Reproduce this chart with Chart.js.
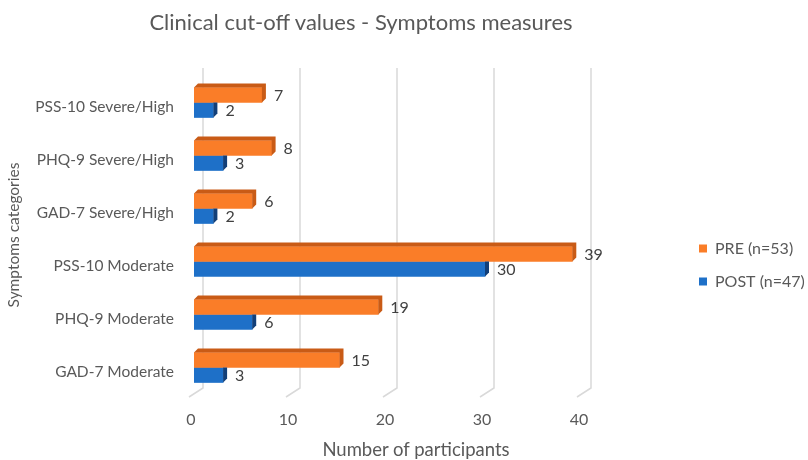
<!DOCTYPE html>
<html><head><meta charset="utf-8">
<script src="https://cdn.jsdelivr.net/npm/chart.js@4"></script>
<style>
html,body{margin:0;padding:0;background:#fff;}
#wrap{position:relative;width:808px;height:460px;overflow:hidden;}
canvas{position:absolute;left:0;top:0;}
#title{position:absolute;left:0;width:722px;top:8px;line-height:28px;text-align:center;font-family:Lato,sans-serif;font-size:22px;color:#595959;white-space:nowrap;}
#xtitle{position:absolute;left:216px;width:400px;top:438px;line-height:22px;text-align:center;font-family:Lato,sans-serif;font-size:18.5px;color:#595959;white-space:nowrap;}
</style></head>
<body><div id="wrap"><canvas id="c" width="808" height="460"></canvas>
<div id="title">Clinical cut-off values - Symptoms measures</div>
<div id="xtitle">Number of participants</div></div>
<script>
const categories = ['PSS-10 Severe/High','PHQ-9 Severe/High','GAD-7 Severe/High','PSS-10 Moderate','PHQ-9 Moderate','GAD-7 Moderate'];
const preValues = [7, 8, 6, 39, 19, 15];
const postValues = [2, 3, 2, 30, 6, 3];
const seriesNames = ['PRE (n=53)', 'POST (n=47)'];
const xTicks = [0, 10, 20, 30, 40];
const yAxisTitle = 'Symptoms categories';

const DEPTH = 4;
const TXT = '#595959';
const LEGEND_W = 125;

const gridPlugin = {
  id: 'grid3d',
  beforeDatasetsDraw(chart) {
    const ctx = chart.ctx, xs = chart.scales.x, a = chart.chartArea;
    ctx.save();
    ctx.strokeStyle = '#d9d9d9';
    ctx.lineWidth = 1.5;
    xTicks.forEach(v => {
      const px = xs.getPixelForValue(v);
      ctx.beginPath();
      ctx.moveTo(px + 9, a.top - 8);
      ctx.lineTo(px + 9, a.bottom - 6);
      ctx.lineTo(px - 5, a.bottom + 3);
      ctx.stroke();
    });
    ctx.restore();
  }
};

const legendWidthPlugin = {
  id: 'legendWidth',
  afterInit(chart) {
    const lg = chart.legend;
    if (!lg) return;
    const f = lg.fit;
    lg.fit = function () { f.call(this); this.width = LEGEND_W; };
  }
};

const bar3dPlugin = {
  id: 'bar3d',
  afterDatasetsDraw(chart) {
    const ctx = chart.ctx;
    ctx.save();
    chart.data.datasets.forEach((ds, i) => {
      const meta = chart.getDatasetMeta(i);
      meta.data.forEach((el, j) => {
        const p = el.getProps(['x', 'y', 'base', 'height'], true);
        const top = p.y - p.height / 2, bot = p.y + p.height / 2;
        ctx.fillStyle = ds.sideColor;
        ctx.beginPath();
        if (i === 0) {
          ctx.moveTo(p.base, top);
          ctx.lineTo(p.base + DEPTH, top - DEPTH);
          ctx.lineTo(p.x + DEPTH, top - DEPTH);
          ctx.lineTo(p.x + DEPTH, bot - DEPTH);
          ctx.lineTo(p.x, bot);
          ctx.lineTo(p.x, top);
        } else {
          ctx.moveTo(p.x, top);
          ctx.lineTo(p.x + DEPTH, top);
          ctx.lineTo(p.x + DEPTH, bot - DEPTH);
          ctx.lineTo(p.x, bot);
        }
        ctx.closePath();
        ctx.fill();
        ctx.fillStyle = '#404040';
        ctx.font = '16px Lato, sans-serif';
        ctx.textAlign = 'left';
        ctx.textBaseline = 'middle';
        ctx.fillText(String(ds.data[j]), p.x + DEPTH + 8, p.y + 1);
      });
    });
    ctx.restore();
  }
};

new Chart(document.getElementById('c'), {
  type: 'bar',
  data: {
    labels: categories,
    datasets: [
      { label: seriesNames[0], data: preValues, backgroundColor: '#FA7D28', sideColor: '#C95B16', borderWidth: 0, barThickness: 15 },
      { label: seriesNames[1], data: postValues, backgroundColor: '#1E70C8', sideColor: '#123F78', borderWidth: 0, barThickness: 15 }
    ]
  },
  options: {
    indexAxis: 'y',
    responsive: false,
    animation: false,
    devicePixelRatio: 1,
    layout: { padding: { top: 76, left: 0, right: 1, bottom: 6 } },
    plugins: {
      title: { display: false },
      tooltip: { enabled: false },
      legend: {
        position: 'right',
        labels: { boxWidth: 8, boxHeight: 8, padding: 17, color: TXT, font: { family: 'Lato', size: 16 } }
      }
    },
    scales: {
      x: {
        type: 'linear', min: 0, max: 40,
        grid: { display: false, drawTicks: false },
        border: { display: false },
        ticks: { color: TXT, font: { family: 'Lato', size: 16 }, padding: 16, labelOffset: -3 },
        afterBuildTicks(s) { s.ticks = xTicks.map(v => ({ value: v })); },
        afterFit(s) { s.height = 60; }
      },
      y: {
        grid: { display: false, drawTicks: false },
        border: { display: false },
        ticks: { color: TXT, font: { family: 'Lato', size: 15.5 }, padding: 20, labelOffset: 4 },
        title: { display: true, text: yAxisTitle, color: TXT, font: { family: 'Lato', size: 15.5 }, padding: { top: 5, bottom: 0 } },
        afterFit(s) { s.width = 194; }
      },
      y2: {
        type: 'linear', position: 'right', display: true,
        grid: { display: false, drawTicks: false },
        border: { display: false },
        ticks: { display: false },
        afterFit(s) {
          const lw = s.chart.legend ? s.chart.legend.width : LEGEND_W;
          s.width = Math.max(0, 808 - 1 - lw - 582);
        }
      }
    }
  },
  plugins: [gridPlugin, legendWidthPlugin, bar3dPlugin]
});
</script>
</body></html>
